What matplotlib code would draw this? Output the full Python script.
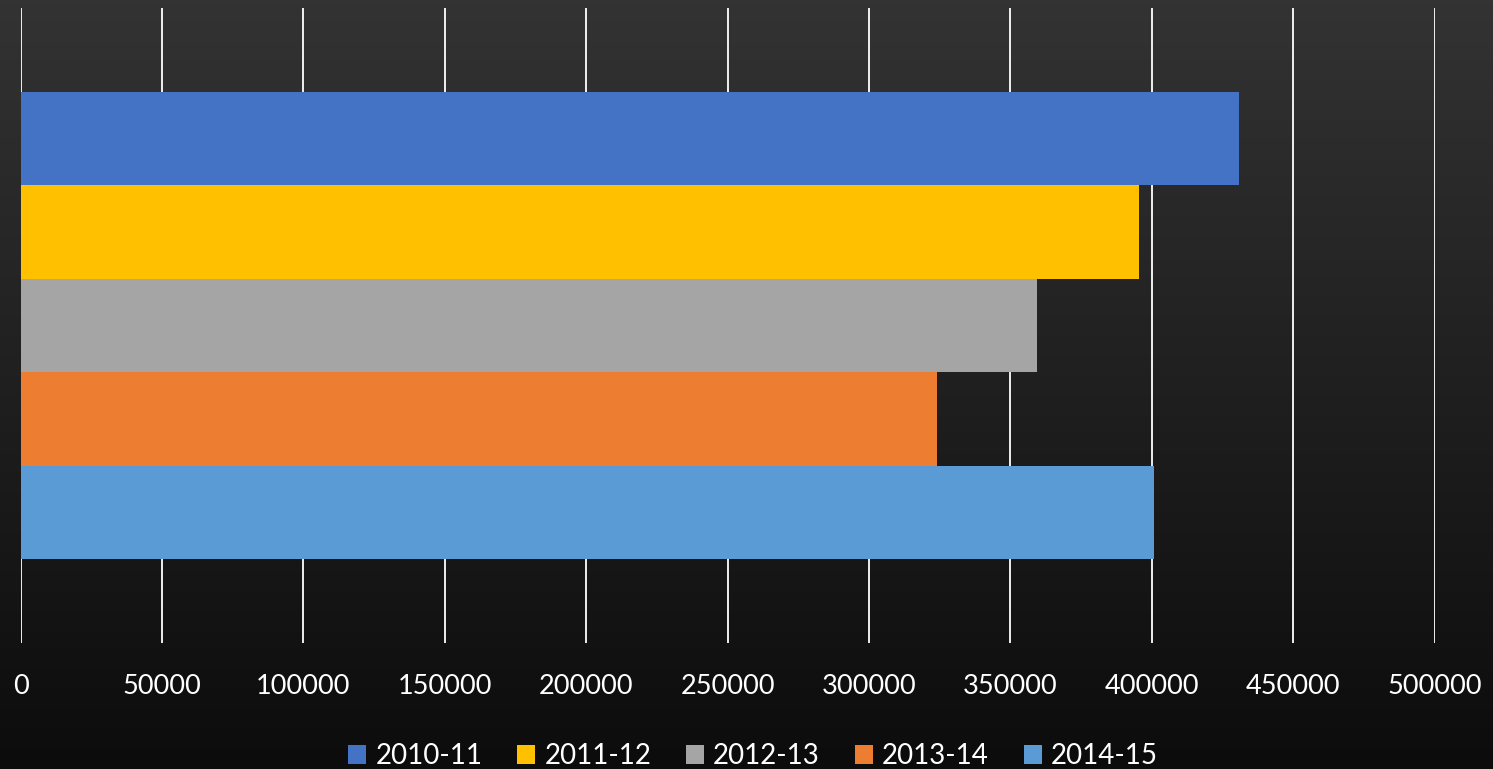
import matplotlib
matplotlib.use("Agg")
import matplotlib.pyplot as plt
import numpy as np

series = ["2010-11", "2011-12", "2012-13", "2013-14", "2014-15"]
values = [431000, 395500, 359400, 324000, 400800]
colors = ["#4472C4", "#FFC000", "#A5A5A5", "#ED7D31", "#5B9BD5"]
xticks = [0, 50000, 100000, 150000, 200000, 250000, 300000, 350000, 400000, 450000, 500000]

plt.rcParams['font.family'] = ['Lato', 'DejaVu Sans']

W, H = 1493, 769
fig = plt.figure(figsize=(W / 100, H / 100), dpi=100)

# background gradient
bg = fig.add_axes([0, 0, 1, 1], zorder=-10)
grad = np.linspace(51, 12, 256) / 255.0
img = np.repeat(grad[:, None], 2, axis=1)
img = np.dstack([img, img, img])
bg.imshow(img, aspect='auto', extent=[0, 1, 0, 1], origin='upper')
bg.set_axis_off()

left = 20.5 / W
right = 1434.5 / W
bottom = (H - 643) / H
top = (H - 8) / H
ax = fig.add_axes([left, bottom, right - left, top - bottom])
ax.set_facecolor('none')
ax.patch.set_alpha(0)

group = 0.7354
bh = group / len(series)
for i, (s, v, c) in enumerate(zip(series, values, colors)):
    y = (len(series) - 1) / 2 * bh - i * bh
    ax.barh(y, v, height=bh, color=c, label=s, zorder=3, linewidth=0)

ax.set_xlim(0, 500000)
ax.set_ylim(-0.5, 0.5)
ax.set_xticks(xticks)
ax.set_xticklabels([str(t) for t in xticks])
ax.set_yticks([])
ax.grid(axis='x', color='white', linewidth=1.3, zorder=0)
ax.set_axisbelow(True)
for sp in ax.spines.values():
    sp.set_visible(False)
ax.tick_params(axis='x', length=0, pad=22, labelsize=19.5, colors='white')

leg = fig.legend(loc='center', bbox_to_anchor=(753 / W, (H - 756) / H), ncol=5,
                 frameon=False, fontsize=20, labelcolor='white',
                 handlelength=0.65, handleheight=0.65, handletextpad=0.33,
                 columnspacing=1.25, borderaxespad=0, borderpad=0)

fig.savefig("out.png", dpi=100)
